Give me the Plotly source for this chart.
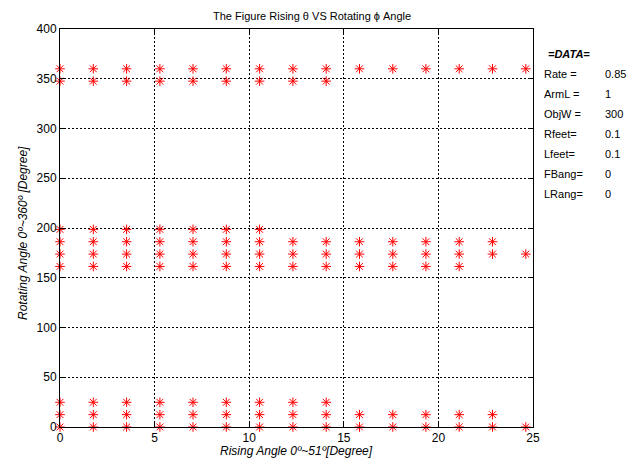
import plotly.graph_objects as go

# Rising angle samples (theta, degrees) visible in 0..25
theta = [0, 1.76, 3.52, 5.28, 7.03, 8.79, 10.55, 12.31, 14.07,
         15.83, 17.59, 19.34, 21.10, 22.86, 24.62]
# Rotating angle levels (phi, degrees) and how many theta columns have a point
phi_levels = [0, 12.41, 24.83, 161.38, 173.79, 186.21, 198.62, 347.59, 360]
phi_counts = [15, 14, 9, 13, 15, 14, 7, 9, 15]

param_labels = ["Rate =", "ArmL =", "ObjW =", "Rfeet=", "Lfeet=", "FBang=", "LRang="]
param_values = ["0.85", "1", "300", "0.1", "0.1", "0", "0"]

xs, ys = [], []
for phi, n in zip(phi_levels, phi_counts):
    for t in theta[:n]:
        xs.append(t)
        ys.append(phi)

FONT = "Liberation Sans, Arial, sans-serif"
fig = go.Figure()
fig.add_trace(go.Scatter(
    x=xs, y=ys, mode="markers",
    marker=dict(symbol="asterisk-open", size=8, color="red",
                line=dict(color="red", width=1)),
    showlegend=False, cliponaxis=False))

L, R, T, B = 60, 105, 29, 31
W, H = 638, 458
pw, ph = W - L - R, H - T - B

axis_common = dict(showline=True, linecolor="black", linewidth=1, mirror="ticks",
                   ticks="inside", ticklen=5, tickcolor="black",
                   showgrid=True, gridcolor="black", gridwidth=1, griddash="2px,2px",
                   zeroline=False, tickfont=dict(family=FONT, size=12, color="black"))
fig.update_xaxes(range=[0, 25], tickvals=[0, 5, 10, 15, 20, 25], **axis_common)
fig.update_yaxes(range=[0, 400], tickvals=list(range(0, 401, 50)), **axis_common)

ann = []
ann.append(dict(text="The Figure Rising θ VS Rotating ϕ Angle", x=(312 - L) / pw, y=(H - B - 16) / ph,
                xref="paper", yref="paper", showarrow=False, xanchor="center", yanchor="middle",
                font=dict(family=FONT, size=11, color="black")))
ann.append(dict(text="<i>Rising Angle 0º~51º[Degree]</i>", x=(296 - L) / pw, y=(H - B - 451) / ph,
                xref="paper", yref="paper", showarrow=False, xanchor="center", yanchor="middle",
                font=dict(family=FONT, size=12, color="black")))
ann.append(dict(text="<i>Rotating Angle 0º~360º [Degree]</i>", x=(23 - L) / pw, y=(H - B - 233) / ph,
                xref="paper", yref="paper", showarrow=False, xanchor="center", yanchor="middle",
                textangle=-90, font=dict(family=FONT, size=12, color="black")))
ann.append(dict(text="<b><i>=DATA=</i></b>", x=(546 - L) / pw, y=(H - B - 54) / ph,
                xref="paper", yref="paper", showarrow=False, xanchor="left", yanchor="middle",
                font=dict(family=FONT, size=11, color="black")))
row_y = [74, 94, 114, 134, 154, 174, 194]
for lab, val, py in zip(param_labels, param_values, row_y):
    ann.append(dict(text=lab, x=(542 - L) / pw, y=(H - B - py) / ph, xref="paper", yref="paper",
                    showarrow=False, xanchor="left", yanchor="middle",
                    font=dict(family=FONT, size=11, color="black")))
    ann.append(dict(text=val, x=(603 - L) / pw, y=(H - B - py) / ph, xref="paper", yref="paper",
                    showarrow=False, xanchor="left", yanchor="middle",
                    font=dict(family=FONT, size=11, color="black")))

fig.update_layout(width=W, height=H, margin=dict(l=L, r=R, t=T, b=B),
                  plot_bgcolor="white", paper_bgcolor="white", annotations=ann)
fig.write_html("out.html")
